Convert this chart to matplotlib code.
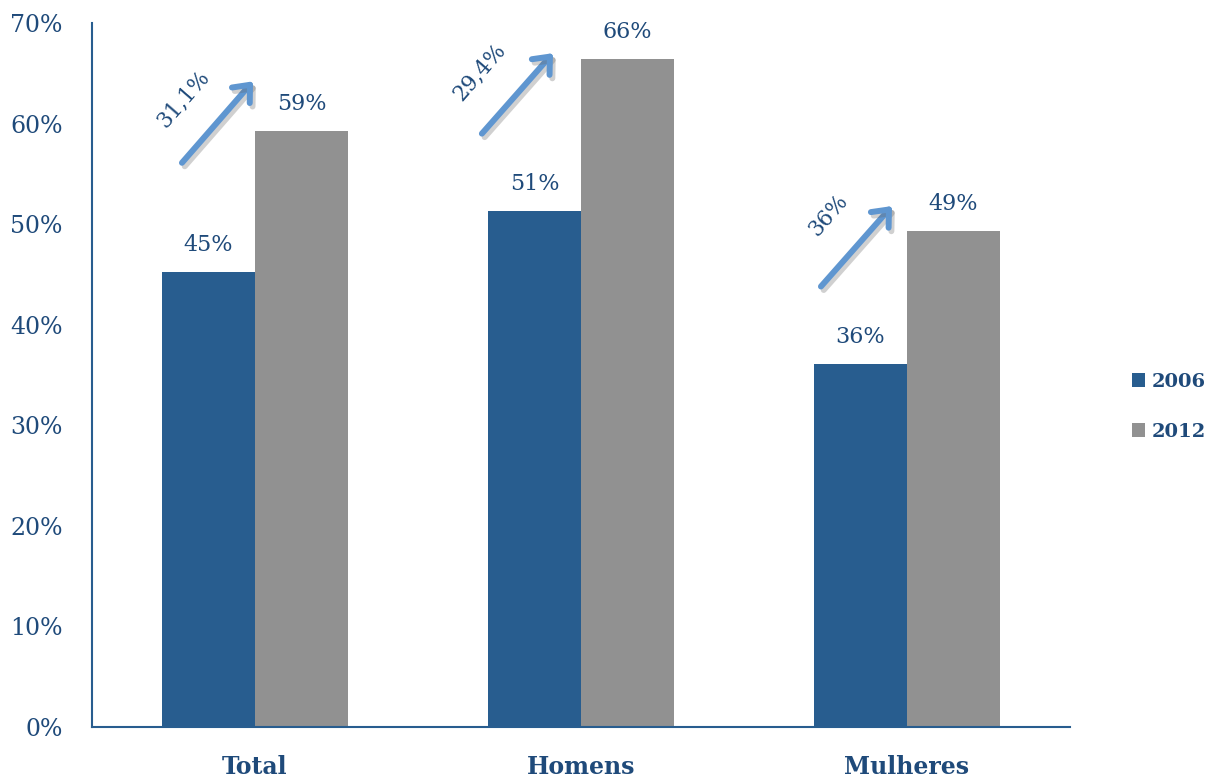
import matplotlib
matplotlib.use('Agg')
import matplotlib.pyplot as plt
import matplotlib.patheffects as pe
import numpy as np

categorias = ['Total', 'Homens', 'Mulheres']
anos = ['2006', '2012']
valores_2006 = [45.2, 51.3, 36.1]
valores_2012 = [59.3, 66.4, 49.3]
rotulos_2006 = ['45%', '51%', '36%']
rotulos_2012 = ['59%', '66%', '49%']
variacoes = ['31,1%', '29,4%', '36%']

AZUL = '#285D8F'
CINZA = '#919191'
TXT = '#1F4A7A'
SETA = '#5F96D0'

plt.rcParams['font.family'] = ['DejaVu Serif']

fig = plt.figure(figsize=(12.07, 7.8), dpi=100)
ax = fig.add_axes([0.0762, 0.0679, 0.8103, 0.9026])

x = np.arange(len(categorias))
w = 0.285
ax.bar(x - w/2, valores_2006, w, color=AZUL, label=anos[0])
ax.bar(x + w/2, valores_2012, w, color=CINZA, label=anos[1])

for xi, v, t in zip(x - w/2, valores_2006, rotulos_2006):
    ax.text(xi, v + 1.6, t, ha='center', va='bottom', fontsize=16, color=TXT)
for xi, v, t in zip(x + w/2, valores_2012, rotulos_2012):
    ax.text(xi, v + 1.6, t, ha='center', va='bottom', fontsize=16, color=TXT)

# setas de variação (início / fim em unidades de dados)
setas = [((-0.224, 56.1), (-0.006, 64.2)),
         ((0.696, 59.0), (0.914, 67.0)),
         ((1.736, 43.8), (1.954, 51.8))]
pos_txt = [(-0.22, 62.5), (0.69, 65.2), (1.76, 50.9)]
sombra = [pe.SimpleLineShadow(offset=(2, -2.5), shadow_color='#666666', alpha=0.3),
          pe.Normal()]
for (p0, p1), (tx, ty), lab in zip(setas, pos_txt, variacoes):
    ax.annotate('', xy=p1, xytext=p0,
                arrowprops=dict(arrowstyle='->,head_length=1.0,head_width=0.85',
                                lw=4.3, color=SETA, shrinkA=0, shrinkB=0,
                                path_effects=sombra))
    ax.text(tx, ty, lab, rotation=49, ha='center', va='center',
            fontsize=15.5, color=TXT, rotation_mode='anchor')

ax.set_xlim(-0.5, 2.5)
ax.set_ylim(0, 70)
ax.set_yticks(np.arange(0, 71, 10))
ax.set_yticklabels([f'{v}%' for v in range(0, 71, 10)], fontsize=17, color=TXT)
ax.set_xticks(x)
ax.set_xticklabels(categorias, fontsize=17, fontweight='bold', color=TXT)
ax.tick_params(axis='both', length=0)
ax.tick_params(axis='x', pad=20)
ax.tick_params(axis='y', pad=21)

for s in ['top', 'right']:
    ax.spines[s].set_visible(False)
for s in ['left', 'bottom']:
    ax.spines[s].set_color(AZUL)
    ax.spines[s].set_linewidth(1.5)

leg = ax.legend(loc='center left', bbox_to_anchor=(1.045, 0.455), frameon=False,
                prop={'size': 14, 'weight': 'bold'}, handlelength=0.7,
                handleheight=0.7, handletextpad=0.35, labelspacing=1.65)
for t in leg.get_texts():
    t.set_color(TXT)

fig.savefig('out.png', dpi=100, facecolor='white')
